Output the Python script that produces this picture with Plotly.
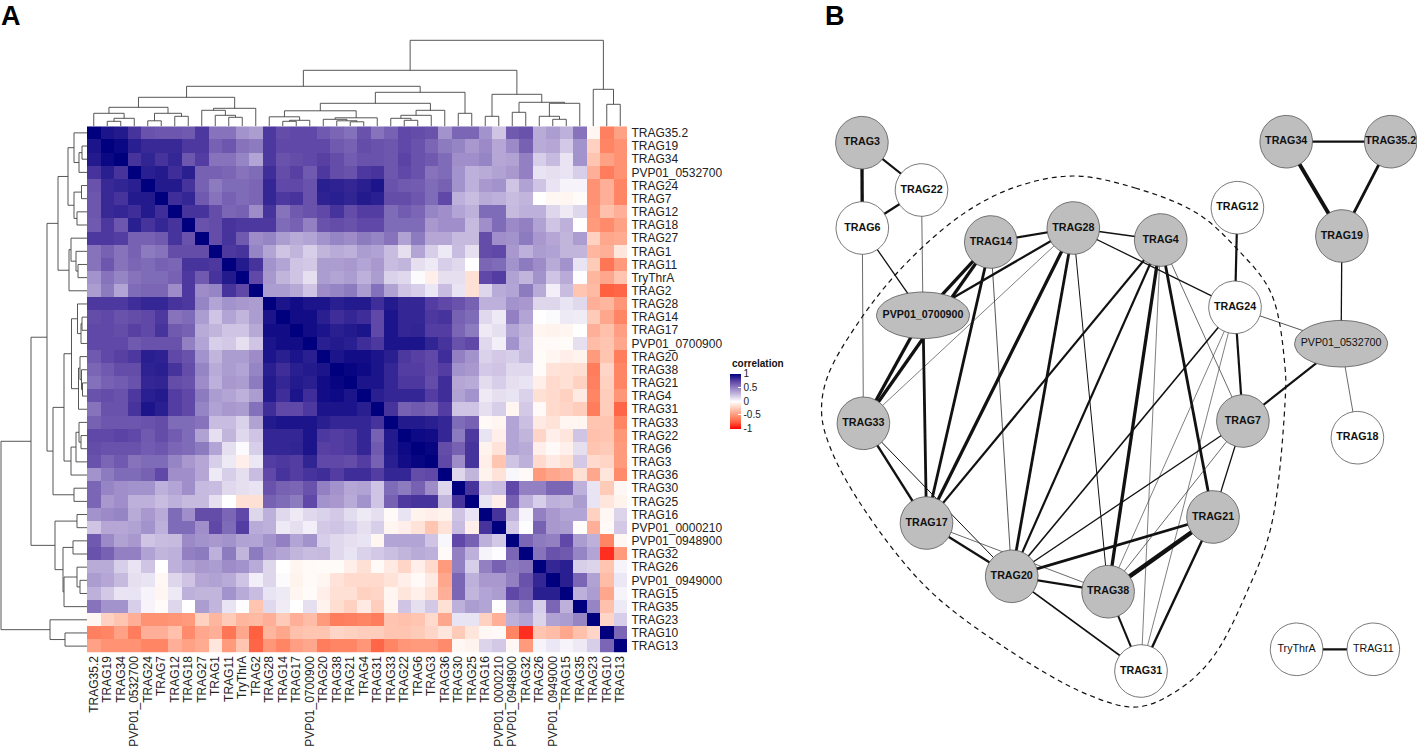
import math
import plotly.graph_objects as go

W, H = 1417, 746

labels = ["TRAG35.2","TRAG19","TRAG34","PVP01_0532700","TRAG24","TRAG7","TRAG12","TRAG18","TRAG27","TRAG1",
          "TRAG11","TryThrA","TRAG2","TRAG28","TRAG14","TRAG17","PVP01_0700900","TRAG20","TRAG38","TRAG21",
          "TRAG4","TRAG31","TRAG33","TRAG22","TRAG6","TRAG3","TRAG36","TRAG30","TRAG25","TRAG16",
          "PVP01_0000210","PVP01_0948900","TRAG32","TRAG26","PVP01_0949000","TRAG15","TRAG35","TRAG23","TRAG10","TRAG13"]

# Upper triangle of the correlation matrix, in percent, row by row
upper = [
 [100,92,90,80,68,66,66,65,78,55,55,42,38, 78,70,72,72,65,60,56, 68,55,62,72,70,68,42,60,60,42,22,65,68,32,38,30,55,-5,-60,-45],
 [100,97,88,84,84,84,78,78,62,66,55,52, 78,72,72,72,72,65,62, 70,68,66,72,68,60,52,48,40,46,34,46,62,32,34,20,42,-22,-58,-52],
 [100,80,86,80,85,66,76,55,55,48,35, 78,68,70,72,75,70,64, 68,68,66,74,68,65,58,44,44,48,34,36,50,18,26,10,42,-28,-45,-52],
 [100,88,90,82,88,62,62,60,55,58, 82,70,75,65,78,70,68, 78,80,66,72,68,55,58,42,30,32,36,40,50,10,12,10,18,-38,-62,-52],
 [100,90,90,80,62,52,58,58,60, 85,72,72,68,88,87,85, 88,92,68,65,64,58,62,42,30,40,42,22,36,22,10,4,4,-52,-38,-58],
 [100,82,85,65,55,62,58,60, 85,78,80,68,87,88,86, 90,88,70,70,66,58,72,30,25,32,30,25,28,0,-4,-5,-2,-52,-38,-58],
 [100,80,80,70,60,62,45, 80,55,65,68,72,80,70, 76,76,58,64,60,48,44,35,30,58,58,26,30,30,15,8,15,-50,-30,-38],
 [100,68,70,80,78,78, 78,58,62,50,68,70,68, 72,72,58,58,58,40,44,44,26,44,58,46,50,36,22,30,0,-48,-55,-45],
 [100,70,80,65,45, 48,38,32,35,42,48,45, 52,48,55,36,52,34,34,26,26,70,44,42,52,40,34,28,38,-22,-42,-40],
 [100,78,80,48, 35,22,28,18,28,32,30, 38,36,25,12,35,18,8,25,12,70,72,40,30,38,36,28,28,-35,-38,-12],
 [100,90,80, 42,35,22,20,38,38,40, 35,40,25,28,12,8,18,14,0,60,58,42,52,45,32,42,10,-25,-65,-48],
 [100,72, 40,28,22,12,38,35,38, 30,38,17,14,2,-8,12,12,-15,72,76,36,28,42,22,32,1,-35,-42,-28],
 [100, 38,38,33,22,45,48,52, 38,56,36,22,18,9,25,10,-15,15,32,35,52,32,6,25,-28,-33,-75,-72],
 [100,92,95,92,92,88,90, 90,82,90,85,85,76,72,68,62,30,30,42,40,15,15,10,14,-38,-35,-50],
 [100,95,95,88,82,85, 82,72,92,85,85,78,80,62,58,14,8,50,35,0,2,8,7,-25,-42,-58],
 [100,95,92,88,90, 92,72,92,85,86,76,76,60,52,8,12,35,28,-5,-6,-5,0,-38,-30,-46],
 [100,88,90,88, 82,78,92,92,92,86,80,68,72,14,6,42,25,-3,-3,-2,12,-32,-28,-42],
 [100,92,95, 95,92,88,78,75,72,82,50,42,17,20,18,26,-2,-5,-8,-6,-48,-28,-62],
 [100,98, 96,92,85,76,76,72,76,42,40,20,22,14,14,-2,-14,-15,-16,-62,-20,-58],
 [100, 92,92,85,78,78,70,82,34,32,13,18,12,10,-8,-18,-15,-22,-60,-22,-58],
 [100,88,85,85,85,76,82,36,42,8,12,10,17,-15,-18,-22,-10,-58,-24,-50],
 [100,80,62,65,62,76,22,22,12,18,-5,20,-3,-18,-20,-24,-62,-24,-72],
 [100,90,90,88,85,58,62,-3,-5,35,24,-10,-14,-5,-5,-28,-28,-58],
 [100,96,95,85,52,78,10,-8,35,28,-20,-8,-12,22,-30,-28,-50],
 [100,98,70,62,80,-6,-14,35,32,-8,-3,-7,12,-28,-25,-48],
 [100,72,45,80,-8,-28,22,30,-18,-10,-15,20,-18,-20,-48],
 [100,15,28,-6,-14,3,-3,-48,-42,-38,-15,-42,-12,-55],
 [100,80,22,25,72,50,50,60,60,30,10,-25,-4],
 [100,10,-8,62,30,18,30,28,38,10,-12,-6],
 [100,80,30,4,50,40,35,35,-22,-4,16],
 [100,20,1,62,40,38,-1,-38,-3,20],
 [100,60,52,50,72,38,30,-58,-4],
 [100,55,68,65,48,35,-88,-48],
 [100,85,88,18,16,-28,4],
 [100,88,60,36,-32,9],
 [100,30,38,-42,4],
 [100,48,-30,8],
 [100,-20,18],
 [100,60],
 [100],
]

# Cluster tree: (left, right, height); values < 0 refer to merge -(k+1)
merges = [
 (1,2,5),(-1,3,8),(0,-2,13),(4,5,5.5),(6,7,10),(-4,-5,13),(-3,-6,19),
 (10,11,9),(9,-8,11),(8,-9,16),(-10,12,18),(-7,-11,29),
 (14,15,5),(-13,16,6),(13,-14,9.5),(19,20,4.5),(18,-16,5.5),(17,-17,7),(-18,21,8.5),(-15,-19,15.5),
 (23,24,6),(22,-21,8),(-22,25,11),(-23,26,16),(-20,-24,23),(27,28,13),(-25,-26,34),(-12,-27,40),
 (29,30,10),(31,32,14),(34,35,7),(33,-31,10),(-32,36,23),(-30,-33,24),(-29,-34,32),(-28,-35,56),
 (38,39,22),(37,-37,37),(-36,-38,86),
]

node_names = ["TRAG3","TRAG22","TRAG6","TRAG14","TRAG28","TRAG4","TRAG12","TRAG34","TRAG35.2","TRAG19",
              "PVP01_0700900","TRAG24","PVP01_0532700","TRAG33","TRAG7","TRAG18","TRAG17","TRAG21",
              "TRAG20","TRAG38","TRAG31","TryThrA","TRAG11"]
node_x = [861.9,921.5,862.3,990.8,1073.3,1160.7,1237.4,1286.2,1390.7,1341.9,923,1235,1341.1,863.4,1242.9,1357.4,926.5,1213,1011.7,1108.1,1141,1296.6,1373.3]
node_y = [142.7,190,228,242,228,240,207.7,141.7,141.7,236,315.3,307.3,343.7,423.3,421,437.7,523,517,576.3,591.7,671,649.3,649.3]
grey_nodes = {"TRAG3","TRAG14","TRAG28","TRAG4","TRAG34","TRAG35.2","TRAG19","PVP01_0700900","PVP01_0532700",
              "TRAG33","TRAG7","TRAG17","TRAG21","TRAG20","TRAG38"}
plain_nodes = {"PVP01_0532700","TryThrA","TRAG11"}

edges = [
 ("TRAG3","TRAG22",2.2),("TRAG3","TRAG6",3.3),("TRAG22","TRAG6",2.2),("TRAG22","PVP01_0700900",.7),
 ("TRAG6","PVP01_0700900",1.3),("TRAG6","TRAG33",.7),("TRAG14","TRAG28",2.2),("TRAG28","TRAG4",1.3),
 ("TRAG28","TRAG24",1.3),("TRAG14","PVP01_0700900",3.3),("TRAG14","TRAG33",3.3),("TRAG14","TRAG17",2.8),
 ("TRAG14","TRAG20",.8),("TRAG28","PVP01_0700900",2.2),("TRAG28","TRAG33",.6),("TRAG28","TRAG17",3.3),
 ("TRAG28","TRAG20",2.8),("TRAG28","TRAG38",1),("TRAG4","TRAG17",2.2),("TRAG4","TRAG20",2.2),("TRAG4","TRAG38",3.3),
 ("TRAG4","TRAG31",.6),("TRAG4","TRAG21",2.8),("TRAG4","TRAG7",.7),("TRAG12","TRAG24",2.2),
 ("TRAG24","PVP01_0532700",.8),("TRAG24","TRAG7",2.2),("TRAG24","TRAG20",1.6),("TRAG24","TRAG38",.6),
 ("TRAG24","TRAG31",.6),("TRAG34","TRAG35.2",2.2),("TRAG34","TRAG19",3.9),("TRAG35.2","TRAG19",2.8),
 ("TRAG19","PVP01_0532700",1.3),("PVP01_0532700","TRAG7",2.2),("PVP01_0532700","TRAG18",.7),
 ("PVP01_0700900","TRAG33",3.3),("PVP01_0700900","TRAG17",2.8),("TRAG33","TRAG17",2.4),("TRAG33","TRAG20",1),
 ("TRAG17","TRAG20",2.2),("TRAG17","TRAG38",.7),("TRAG20","TRAG7",1.3),("TRAG20","TRAG21",2.8),
 ("TRAG20","TRAG38",2.2),("TRAG20","TRAG31",1.6),("TRAG7","TRAG21",1.3),("TRAG7","TRAG38",.7),
 ("TRAG21","TRAG38",4.5),("TRAG21","TRAG31",2.4),("TRAG38","TRAG31",2),("TryThrA","TRAG11",2.2),
]

hull_x = [1073.6,1135.2,1196.7,1236.2,1271,1285,1285,1271,1247.8,1213,1178.2,1137.5,1088.7,1004,926,860,830,821.6,827.4,860,906.4,964.5,1015.6,1073.6]
hull_y = [176,188,213,248,293,367,403,527,590,657,690,707,695,647,587,503,447,413,377,320,263,213,187,176]

legend_ticks = [1, 0.5, 0, -0.5, -1]
colorscale = [[0,"#FF0000"],[.125,"#FF6040"],[.25,"#FF9677"],[.375,"#FFCBB9"],[.5,"#FFFFFF"],
              [.625,"#C8BCE0"],[.75,"#9280C2"],[.875,"#5840A3"],[1,"#00007F"]]

FONT = "Liberation Sans, Arial, sans-serif"
n = len(labels)
corr = [[None]*n for _ in range(n)]
for i, row in enumerate(upper):
    assert len(row) == n - i, (i, len(row))
    for k, v in enumerate(row):
        corr[i][i+k] = corr[i+k][i] = v/100

# heatmap pixel box
L, R, T, B = 87, 627, 126.3, 652.7

fig = go.Figure()
fig.add_trace(go.Heatmap(
    z=corr, x=list(range(n)), y=list(range(n)), zmin=-1, zmax=1, colorscale=colorscale,
    xaxis="x", yaxis="y", hoverinfo="skip",
    colorbar=dict(x=730/W, xanchor="left", y=1-401/H, yanchor="middle", lenmode="pixels", len=55,
                  thicknessmode="pixels", thickness=11, outlinewidth=0, borderwidth=0, xpad=0, ypad=0,
                  tickvals=legend_ticks, ticktext=["1","0.5","0","-0.5","-1"], ticks="inside", ticklen=3,
                  tickcolor="white", tickwidth=0.6, tickfont=dict(family=FONT, size=10, color="#222"))))

# dendrograms
pos, hgt = {}, {}
def coord(ref):
    if ref >= 0:
        return ref, 0
    return pos[-ref-1], hgt[-ref-1]
dx, dy = [], []
for k, (a, b, h) in enumerate(merges):
    xa, ha = coord(a)
    xb, hb = coord(b)
    dx += [xa, xa, xb, xb, None]
    dy += [ha, h, h, hb, None]
    pos[k], hgt[k] = (xa+xb)/2, h
dline = dict(color="#444444", width=0.9)
fig.add_trace(go.Scatter(x=dx, y=dy, mode="lines", line=dline, xaxis="x", yaxis="y2", hoverinfo="skip", showlegend=False))
fig.add_trace(go.Scatter(x=dy, y=dx, mode="lines", line=dline, xaxis="x2", yaxis="y", hoverinfo="skip", showlegend=False))

# network
idx = {name: i for i, name in enumerate(node_names)}
for a, b, w in edges:
    i, j = idx[a], idx[b]
    fig.add_trace(go.Scatter(x=[node_x[i], node_x[j]], y=[node_y[i], node_y[j]], mode="lines",
                             line=dict(color="#111111" if w >= 1 else "#2a2a2a", width=w),
                             xaxis="x3", yaxis="y3", hoverinfo="skip", showlegend=False))
fig.add_trace(go.Scatter(x=hull_x, y=hull_y, mode="lines", line=dict(color="#111111", width=1.2, dash="5px,4px", shape="spline", smoothing=1),
                         xaxis="x3", yaxis="y3", hoverinfo="skip", showlegend=False))
for name, cx, cy in zip(node_names, node_x, node_y):
    rx, ry = (46.5, 23.3) if name.startswith("PVP") else (26.3, 26.3)
    angles = [2*math.pi*t/60 for t in range(61)]
    fig.add_trace(go.Scatter(x=[cx+rx*math.cos(t) for t in angles], y=[cy+ry*math.sin(t) for t in angles],
                             mode="lines", fill="toself", fillcolor="#BEBEBE" if name in grey_nodes else "white",
                             line=dict(color="#555555", width=0.8), xaxis="x3", yaxis="y3", hoverinfo="skip", showlegend=False))
fig.add_trace(go.Scatter(x=node_x, y=node_y, mode="text",
                         text=[n_ if n_ in plain_nodes else f"<b>{n_}</b>" for n_ in node_names],
                         textposition="middle center", textfont=dict(family=FONT, size=10.7, color="#111"),
                         xaxis="x3", yaxis="y3", hoverinfo="skip", showlegend=False))

fig.update_layout(
    width=W, height=H, margin=dict(l=0, r=0, t=0, b=0), paper_bgcolor="white", plot_bgcolor="rgba(0,0,0,0)",
    showlegend=False, font=dict(family=FONT, color="#111"),
    xaxis=dict(domain=[L/W, R/W], range=[-0.5, n-0.5], tickmode="array", tickvals=list(range(n)), ticktext=labels,
               tickangle=-90, ticks="", showgrid=False, zeroline=False, showline=False, anchor="y",
               tickfont=dict(family=FONT, size=12, color="#222")),
    yaxis=dict(domain=[1-B/H, 1-T/H], range=[n-0.5, -0.5], tickmode="array", tickvals=list(range(n)), ticktext=labels,
               side="right", ticks="outside", ticklen=1, tickcolor="rgba(0,0,0,0)", showgrid=False, zeroline=False, showline=False, anchor="x",
               tickfont=dict(family=FONT, size=12, color="#222")),
    xaxis2=dict(domain=[0, L/W], range=[L, 0], visible=False, anchor="y"),
    yaxis2=dict(domain=[1-T/H, 1-(T-88)/H], range=[0, 88], visible=False, anchor="x"),
    xaxis3=dict(domain=[800/W, 1], range=[800, W], visible=False, anchor="y3"),
    yaxis3=dict(domain=[0, 1], range=[H, 0], visible=False, anchor="x3"),
    annotations=[
        dict(text="<b>A</b>", x=0, y=1, xref="paper", yref="paper", xanchor="left", yanchor="top", showarrow=False,
             borderpad=0, font=dict(family=FONT, size=27, color="black")),
        dict(text="<b>B</b>", x=824/W, y=1, xref="paper", yref="paper", xanchor="left", yanchor="top", showarrow=False,
             borderpad=0, font=dict(family=FONT, size=27, color="black")),
        dict(text="<b>correlation</b>", x=730/W, y=1-363/H, xref="paper", yref="paper", xanchor="left", yanchor="middle",
             showarrow=False, font=dict(family=FONT, size=10, color="#111")),
    ],
)

fig.write_html("out.html", config={"displayModeBar": False}, post_script="document.body.style.margin='0';")
